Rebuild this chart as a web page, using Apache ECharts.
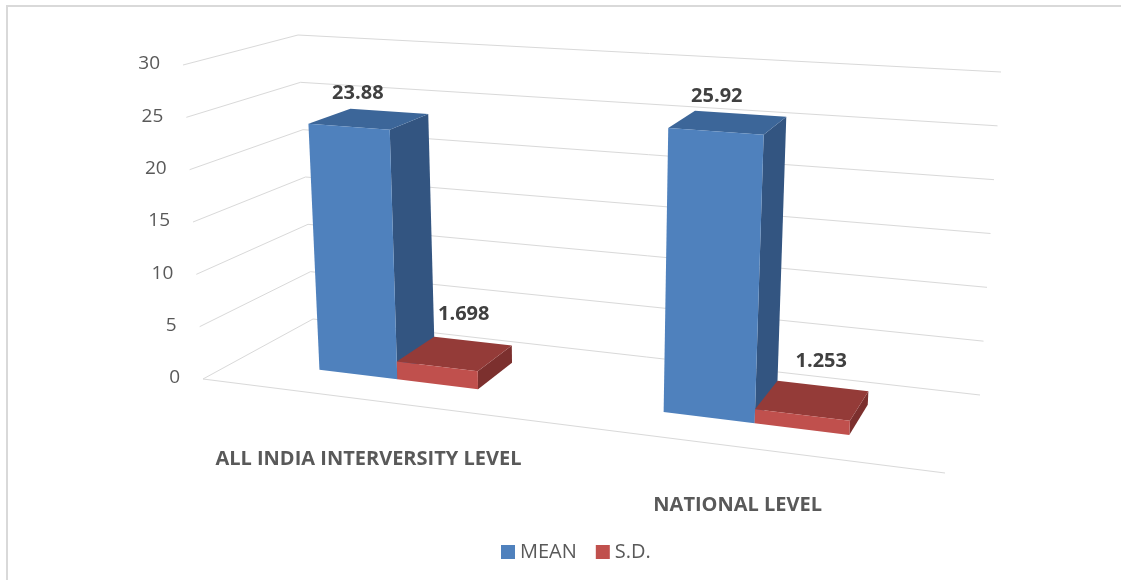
<!DOCTYPE html>
<html>
<head>
<meta charset="utf-8">
<script src="https://cdn.jsdelivr.net/npm/echarts@6/dist/echarts.min.js"></script>
<style>
  html, body { margin: 0; padding: 0; background: #fff; }
  #main { width: 1121px; height: 580px; }
</style>
</head>
<body>
<div id="main"></div>
<script>
// chart data
var categories = ['ALL INDIA INTERVERSITY LEVEL', 'NATIONAL LEVEL'];
var seriesNames = ['MEAN', 'S.D.'];
var meanValues = [23.88, 25.92];
var sdValues = [1.698, 1.253];
var yTicks = [0, 5, 10, 15, 20, 25, 30];

// screen corners of the 3d box (front/back, left/right, bottom/top)
var box = {
  flb: [203, 379], flt: [183, 65],
  blb: [313, 319], blt: [298, 35],
  frb: [945, 473], frt: [967, 117],
  brb: [980, 395], brt: [1001, 72]
};
var foreshort = 0.854;   // right side is closer to the eye
var barDepth = [0.32, 0.72];
var barShare = 0.24;     // part of a category band taken by one bar

function lerp(p, q, t) {
  return [p[0] + (q[0] - p[0]) * t, p[1] + (q[1] - p[1]) * t];
}
// u: across (0..1), v: height (0..1), w: depth (0..1)
function proj(u, v, w) {
  var f = foreshort * u / (1 + (foreshort - 1) * u);
  var fl = lerp(box.flb, box.flt, v), bl = lerp(box.blb, box.blt, v);
  var fr = lerp(box.frb, box.frt, v), br = lerp(box.brb, box.brt, v);
  var l = lerp(fl, bl, w), r = lerp(fr, br, w);
  return lerp(l, r, f);
}
// value -> fraction of the axis, through the hidden grid
function toUV(params, api, x, y) {
  var cs = params.coordSys;
  var pt = api.coord([x, y]);
  return [(pt[0] - cs.x) / cs.width, (cs.y + cs.height - pt[1]) / cs.height];
}

var GRID_COLOR = '#D9D9D9';
var FONT = "'Open Sans', 'Liberation Sans', sans-serif";

function gridItem(params, api) {
  var uv = toUV(params, api, 0, api.value(1));
  var v = uv[1];
  var kids = [
    { type: 'line', shape: { x1: proj(0, v, 0)[0], y1: proj(0, v, 0)[1], x2: proj(0, v, 1)[0], y2: proj(0, v, 1)[1] },
      style: { stroke: GRID_COLOR, lineWidth: 1 } },
    { type: 'line', shape: { x1: proj(0, v, 1)[0], y1: proj(0, v, 1)[1], x2: proj(1, v, 1)[0], y2: proj(1, v, 1)[1] },
      style: { stroke: GRID_COLOR, lineWidth: 1 } }
  ];
  if (api.value(1) === 0) {
    kids.push({ type: 'line', shape: { x1: proj(0, 0, 0)[0], y1: proj(0, 0, 0)[1], x2: proj(1, 0, 0)[0], y2: proj(1, 0, 0)[1] },
      style: { stroke: GRID_COLOR, lineWidth: 1 } });
  }
  var lp = proj(0, v, 0);
  kids.push({ type: 'text', x: lp[0] - 23, y: lp[1] - 1,
    style: { text: String(api.value(1)), fill: '#595959', fontSize: 19, fontFamily: FONT,
      align: 'right', verticalAlign: 'middle' } });
  return { type: 'group', children: kids };
}

function catItem(params, api) {
  var uv = toUV(params, api, api.value(0), 0);
  var p = proj(uv[0], 0, 0);
  return { type: 'text', x: p[0] + 1, y: p[1] + 59,
    style: { text: categories[params.dataIndex], fill: '#595959', fontSize: 20, fontWeight: 'bold',
      fontFamily: FONT, align: 'center', verticalAlign: 'middle' } };
}

function makeBar(side, colors, labelOff) {
  return function (params, api) {
    var uv = toUV(params, api, api.value(0), api.value(1));
    var band = api.size([1, 0])[0] / params.coordSys.width;
    var u0 = side < 0 ? uv[0] - band * barShare : uv[0];
    var u1 = u0 + band * barShare;
    var v = uv[1], w0 = barDepth[0], w1 = barDepth[1];
    var front = [proj(u0, 0, w0), proj(u1, 0, w0), proj(u1, v, w0), proj(u0, v, w0)];
    var right = [proj(u1, 0, w0), proj(u1, 0, w1), proj(u1, v, w1), proj(u1, v, w0)];
    var top = [proj(u0, v, w0), proj(u1, v, w0), proj(u1, v, w1), proj(u0, v, w1)];
    var c = proj((u0 + u1) / 2, v, (w0 + w1) / 2);
    return {
      type: 'group',
      children: [
        { type: 'polygon', shape: { points: right }, style: { fill: colors[2] } },
        { type: 'polygon', shape: { points: top }, style: { fill: colors[1] } },
        { type: 'polygon', shape: { points: front }, style: { fill: colors[0] } },
        { type: 'text', x: c[0] + labelOff[0], y: c[1] + labelOff[1],
          style: { text: String(api.value(1)), fill: '#404040', fontSize: 20, fontWeight: 'bold',
            fontFamily: FONT, align: 'center', verticalAlign: 'middle' } }
      ]
    };
  };
}

var chart = echarts.init(document.getElementById('main'));
chart.setOption({
  animation: false,
  backgroundColor: '#fff',
  graphic: [{
    type: 'polyline', shape: { points: [[7, 580], [7, 6], [1121, 6]] },
    style: { stroke: '#D9D9D9', lineWidth: 2, fill: null }
  }],
  grid: { left: 100, right: 100, top: 50, bottom: 50, show: false },
  xAxis: { type: 'category', data: categories, show: false },
  yAxis: { type: 'value', min: 0, max: 30, interval: 5, show: false },
  legend: {
    data: seriesNames, left: 496, top: 537, icon: 'rect',
    itemWidth: 14, itemHeight: 14, itemGap: 19, selectedMode: false,
    textStyle: { fontSize: 20, color: '#595959', fontFamily: FONT }
  },
  series: [
    { type: 'custom', name: 'grid', clip: false, z: 1, silent: true,
      data: yTicks.map(function (t) { return [0, t]; }),
      encode: { x: 0, y: 1 }, renderItem: gridItem },
    { type: 'custom', name: 'cats', clip: false, z: 1, silent: true,
      data: categories.map(function (c, i) { return [i, 0]; }),
      encode: { x: 0, y: 1 }, renderItem: catItem },
    { type: 'custom', name: seriesNames[0], clip: false, z: 2,
      itemStyle: { color: '#4F81BD' },
      data: meanValues.map(function (v, i) { return [i, v]; }),
      encode: { x: 0, y: 1 },
      renderItem: makeBar(-1, ['#4F81BD', '#3C6699', '#335581'], [-11, -26]) },
    { type: 'custom', name: seriesNames[1], clip: false, z: 2,
      itemStyle: { color: '#C0504D' },
      data: sdValues.map(function (v, i) { return [i, v]; }),
      encode: { x: 0, y: 1 },
      renderItem: makeBar(1, ['#C0504D', '#943B38', '#7C302E'], [9, -39]) }
  ]
});
</script>
</body>
</html>
